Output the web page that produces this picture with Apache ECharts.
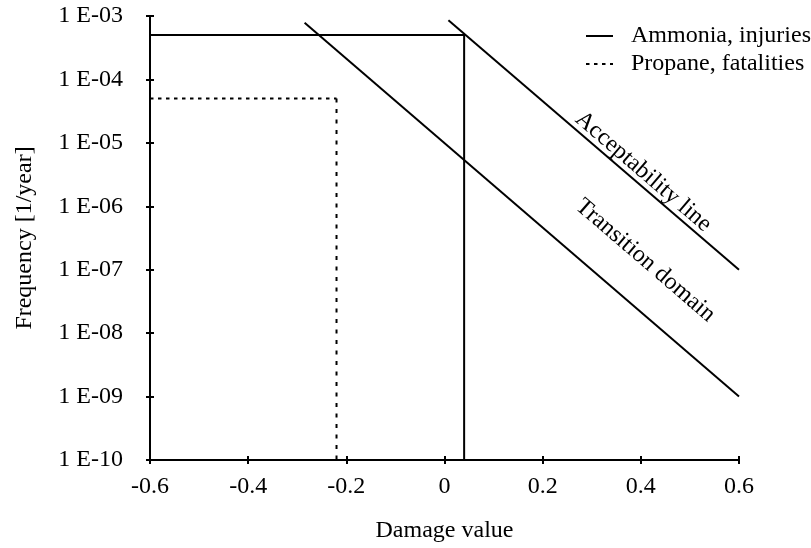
<!DOCTYPE html>
<html>
<head>
<meta charset="utf-8">
<script src="https://cdn.jsdelivr.net/npm/echarts@6/dist/echarts.min.js"></script>
<style>
html,body{margin:0;padding:0;background:#fff;}
#chart{width:811px;height:548px;}
</style>
</head>
<body>
<div id="chart"></div>
<script>
// ---- data ----
var xTicks = [-0.6, -0.4, -0.2, 0, 0.2, 0.4, 0.6];
var yExponents = [-10, -9, -8, -7, -6, -5, -4, -3];
var ammoniaX = [-0.6, 0.04, 0.04];
var ammoniaY = [5e-4, 5e-4, 1e-10];
var propaneHX = [-0.6, -0.22];
var propaneHY = [5e-5, 5e-5];
var propaneVX = [-0.22, -0.22];
var propaneVY = [5e-5, 1e-10];
var acceptX = [0.008, 0.6];
var acceptY = [8.6e-4, 1e-7];
var transX = [-0.285, 0.6];
var transY = [7.8e-4, 1e-9];
var legendNames = ['Ammonia, injuries', 'Propane, fatalities'];
var annotTexts = ['Acceptability line', 'Transition domain'];
var annotX = [0.405, 0.409];
var annotY = [3.5e-6, 1.4e-7];

function pairs(xs, ys){ return xs.map(function(x,i){ return [x, ys[i]]; }); }

var FONT = 'Liberation Serif';
var FS = 24;
var chart = echarts.init(document.getElementById('chart'), null, {renderer:'canvas'});

function fmtY(v){
  var e = Math.round(Math.log10(v));
  var a = Math.abs(e);
  return '1 E' + (e < 0 ? '-' : '+') + (a < 10 ? '0' + a : '' + a);
}
function fmtX(v){
  var r = Math.round(v*10)/10;
  return r === 0 ? '0' : r.toFixed(1);
}

var axisLine = {show:true, onZero:false, lineStyle:{color:'#000', width:2}};
var lineBase = {type:'line', symbol:'none', showSymbol:false, silent:true, animation:false, clip:false};

var option = {
  backgroundColor:'#fff',
  animation:false,
  textStyle:{fontFamily:FONT, color:'#000'},
  grid:{left:150, right:72, top:16, bottom:81, containLabel:false},
  legend:{
    data:legendNames,
    orient:'vertical',
    left:585, top:24, padding:0,
    itemWidth:27, itemHeight:12, itemGap:4,
    itemStyle:{opacity:0},
    textStyle:{fontFamily:FONT, fontSize:FS, color:'#000', padding:[0,0,0,13]}
  },
  xAxis:[{
    type:'value', min:xTicks[0], max:xTicks[xTicks.length-1], interval:0.2,
    name:'Damage value', nameLocation:'middle', nameGap:59,
    nameTextStyle:{fontFamily:FONT, fontSize:FS, color:'#000'},
    axisLine:axisLine,
    axisTick:{show:true, inside:false, length:4, lineStyle:{color:'#000', width:2}},
    axisLabel:{fontFamily:FONT, fontSize:FS, color:'#000', margin:15, formatter:fmtX},
    splitLine:{show:false}
  },{
    type:'value', min:xTicks[0], max:xTicks[xTicks.length-1], interval:0.2, position:'bottom',
    axisLine:{show:false, onZero:false},
    axisTick:{show:true, inside:true, length:4, lineStyle:{color:'#000', width:2}},
    axisLabel:{show:false}, splitLine:{show:false}
  }],
  yAxis:[{
    type:'log', logBase:10, min:Math.pow(10,yExponents[0]), max:Math.pow(10,yExponents[yExponents.length-1]),
    interval:1,
    name:'Frequency [1/year]', nameLocation:'middle', nameGap:113,
    nameTextStyle:{fontFamily:FONT, fontSize:FS, color:'#000'},
    axisLine:axisLine,
    axisTick:{show:true, inside:false, length:4, lineStyle:{color:'#000', width:2}},
    axisLabel:{fontFamily:FONT, fontSize:FS, color:'#000', margin:27, formatter:fmtY},
    minorTick:{show:false},
    splitLine:{show:false}
  },{
    type:'log', logBase:10, min:Math.pow(10,yExponents[0]), max:Math.pow(10,yExponents[yExponents.length-1]),
    interval:1, position:'left',
    axisLine:{show:false, onZero:false},
    axisTick:{show:true, inside:true, length:4, lineStyle:{color:'#000', width:2}},
    axisLabel:{show:false}, splitLine:{show:false}
  }],
  series:[
    Object.assign({}, lineBase, {name:legendNames[0], data:pairs(ammoniaX, ammoniaY),
      lineStyle:{color:'#000', width:2, type:'solid'}, itemStyle:{color:'#000'}}),
    Object.assign({}, lineBase, {name:legendNames[1], data:pairs(propaneHX, propaneHY),
      lineStyle:{color:'#000', width:2, type:[3.5,4.5]}, itemStyle:{color:'#000'}}),
    Object.assign({}, lineBase, {name:legendNames[1], data:pairs(propaneVX, propaneVY),
      lineStyle:{color:'#000', width:2, type:[4,6.5]}, itemStyle:{color:'#000'}}),
    Object.assign({}, lineBase, {name:'accept', data:pairs(acceptX, acceptY),
      lineStyle:{color:'#000', width:2}}),
    Object.assign({}, lineBase, {name:'trans', data:pairs(transX, transY),
      lineStyle:{color:'#000', width:2}})
  ]
};
chart.setOption(option);

// rotated annotations following the diagonal lines
function toPx(p){ return chart.convertToPixel({xAxisIndex:0, yAxisIndex:0}, p); }
var lines = [[acceptX, acceptY], [transX, transY]];
var graphics = annotTexts.map(function(t, i){
  var a = toPx([lines[i][0][0], lines[i][1][0]]);
  var b = toPx([lines[i][0][1], lines[i][1][1]]);
  var ang = Math.atan2(b[1]-a[1], b[0]-a[0]);
  var c = toPx([annotX[i], annotY[i]]);
  return {
    type:'text', x:c[0], y:c[1], rotation:-ang, silent:true,
    style:{text:t, fontFamily:FONT, fontSize:FS, fill:'#000', align:'center', verticalAlign:'middle'}
  };
});
chart.setOption({graphic:graphics});
</script>
</body>
</html>
